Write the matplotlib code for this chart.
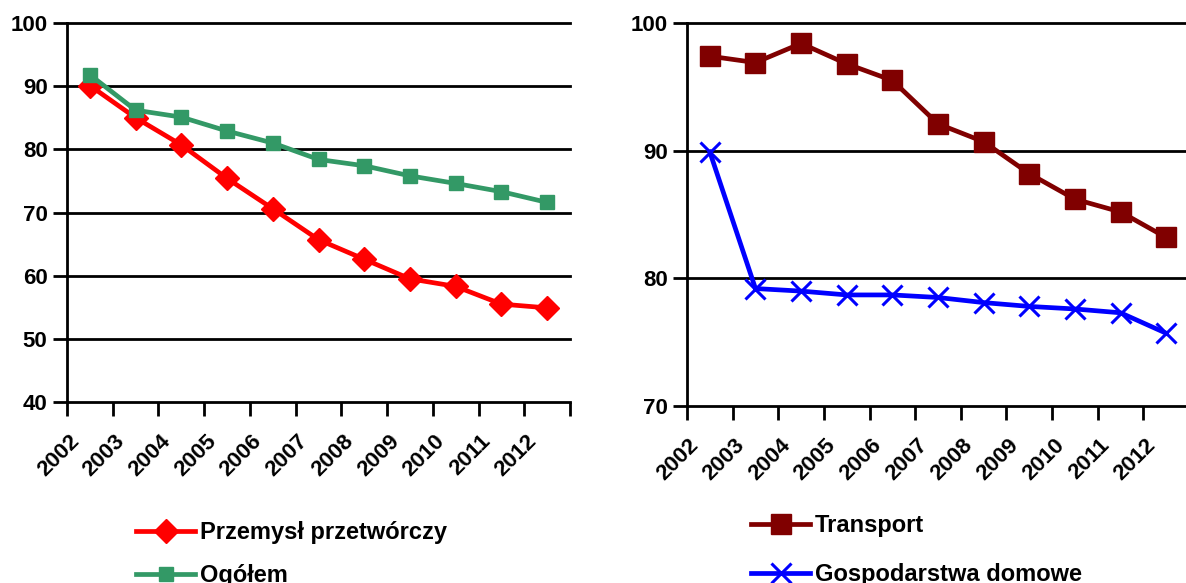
import matplotlib
matplotlib.use("Agg")
import matplotlib.pyplot as plt
from matplotlib.transforms import ScaledTranslation

plt.rcParams['font.family'] = ['Liberation Sans', 'DejaVu Sans']
plt.rcParams['font.weight'] = 'bold'

years = ['2002', '2003', '2004', '2005', '2006', '2007', '2008', '2009', '2010', '2011', '2012']

przemysl = [90.1, 85.0, 80.7, 75.4, 70.6, 65.7, 62.6, 59.5, 58.3, 55.5, 54.9]
ogolem = [91.8, 86.2, 85.1, 82.9, 81.0, 78.4, 77.4, 75.8, 74.6, 73.3, 71.6]

transport = [97.4, 96.9, 98.4, 96.8, 95.5, 92.1, 90.7, 88.2, 86.2, 85.2, 83.2]
gospodarstwa = [89.9, 79.2, 79.0, 78.7, 78.7, 78.5, 78.1, 77.8, 77.6, 77.3, 75.7]

left_yticks = [40, 50, 60, 70, 80, 90, 100]
right_yticks = [70, 80, 90, 100]

W, H = 1186, 583
fig = plt.figure(figsize=(W / 100, H / 100), dpi=100)

ax1 = fig.add_axes([67 / W, 1 - 402 / H, (570 - 67) / W, (402 - 23) / H])
ax2 = fig.add_axes([687 / W, 1 - 406 / H, (1189 - 687) / W, (406 - 23) / H])


def style_axes(ax, yticks):
    n = len(years)
    x = list(range(n))
    ax.set_xlim(-0.5, n - 0.5)
    ax.set_ylim(yticks[0], yticks[-1])
    for s in ('top', 'right', 'bottom'):
        ax.spines[s].set_visible(False)
    ax.spines['left'].set_linewidth(2)
    ax.spines['left'].set_zorder(5)
    ax.set_yticks(yticks)
    ax.set_yticklabels([str(v) for v in yticks], fontsize=16, fontweight='bold')
    ax.tick_params(axis='y', length=10, width=2, direction='out', pad=4)
    for v in yticks:
        ax.axhline(v, color='black', lw=2, zorder=1, clip_on=False)
    # category boundaries carry the tick marks, centres carry the labels
    ax.set_xticks([i - 0.5 for i in range(n + 1)])
    ax.set_xticklabels([])
    ax.tick_params(axis='x', which='major', length=10, width=2, direction='out')
    ax.set_xticks(x, minor=True)
    ax.set_xticklabels(years, minor=True, rotation=45, ha='right', va='center',
                       rotation_mode='anchor', fontsize=16, fontweight='bold')
    ax.tick_params(axis='x', which='minor', length=0, pad=0)
    off = ScaledTranslation(-14 / 100, -36 / 100, fig.dpi_scale_trans)
    for lbl in ax.get_xticklabels(minor=True):
        lbl.set_transform(lbl.get_transform() + off)
    ax.set_facecolor('none')


style_axes(ax1, left_yticks)
style_axes(ax2, right_yticks)

xs = list(range(len(years)))
ax1.plot(xs, przemysl, color='#FF0000', lw=3.4, marker='D', ms=12,
         label='Przemysł przetwórczy', zorder=3, clip_on=False)
ax1.plot(xs, ogolem, color='#339966', lw=3.4, marker='s', ms=10.5,
         label='Ogółem', zorder=4, clip_on=False)

ax2.plot(xs, transport, color='#800000', lw=3.4, marker='s', ms=14.5,
         label='Transport', zorder=3, clip_on=False)
ax2.plot(xs, gospodarstwa, color='#0000FF', lw=3.4, marker='x', ms=14, mew=2.2,
         label='Gospodarstwa domowe', zorder=4, clip_on=False)

leg_kw = dict(frameon=False, borderpad=0, borderaxespad=0, handlelength=2.5,
              handletextpad=0.2, prop={'size': 17, 'weight': 'bold'},
              bbox_transform=fig.transFigure, loc='upper left')
ax1.legend(bbox_to_anchor=(136 / W, 1 - 521 / H), labelspacing=0.86, **leg_kw)
ax2.legend(bbox_to_anchor=(751 / W, 1 - 514 / H), labelspacing=1.1, **leg_kw)

fig.savefig('out.png', dpi=100)
